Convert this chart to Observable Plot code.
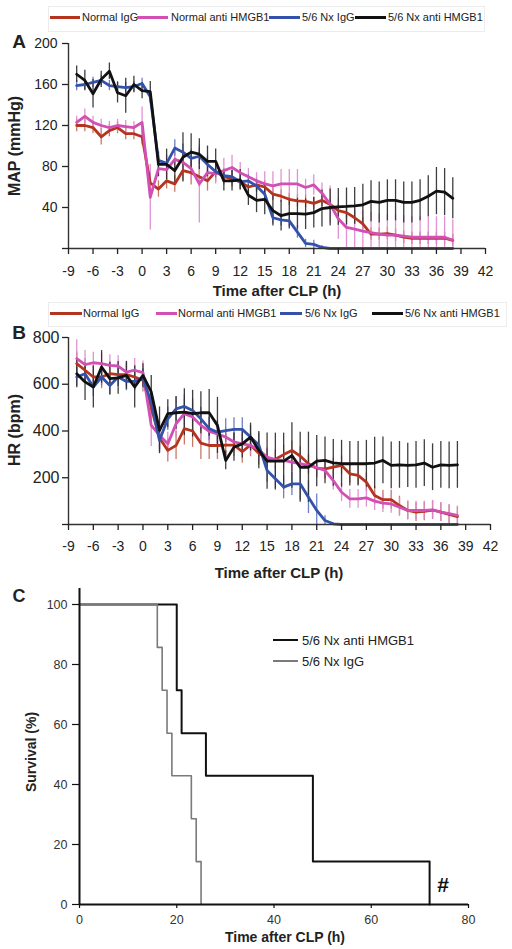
<!DOCTYPE html>
<html><head><meta charset="utf-8">
<script src="https://cdn.jsdelivr.net/npm/d3@7"></script>
<script src="https://cdn.jsdelivr.net/npm/@observablehq/plot@0.6"></script>
<style>
body{margin:0;background:#fff;}
#root{position:relative;width:512px;height:949px;overflow:hidden;font-family:"Liberation Sans",Arial,sans-serif;color:#222;background:#fff;}
.panel{position:absolute;left:0;}
.panel svg{overflow:visible;}
.t{position:absolute;white-space:nowrap;line-height:1;}
.sw{position:absolute;}
.box{position:absolute;border:1px solid #ececec;}
</style></head><body><div id="root"></div>
<script>
// ---------- data ----------
const hours = [-8,-7,-6,-5,-4,-3,-2,-1,0,1,2,3,4,5,6,7,8,9,10,11,12,13,14,15,16,17,18,19,20,21,22,23,24,25,26,27,28,29,30,31,32,33,34,35,36,37,38];
const seriesNames = ["Normal IgG","Normal anti HMGB1","5/6 Nx IgG","5/6 Nx anti HMGB1"];

// Panel A: MAP (mmHg)
const mapNormalIgG  = [120,120,118,109,115,118,112,112,109, 64,58,66,63,76,74,70,66,75,70,68,65,60,62, 60,53,51,48,46.5,46,44,47,43,37,35,30,24,14,14,14.6,13,11,10,10,10,10,10,8];
const mapNormalAnti = [123,129,123,120,118,120,119,118,123, 50,78,77,87,84,78,63,74,73,76,79,74,70,66, 63,61,63,63,63,59.5,62,54,43,29,20.5,19,17,15.6,14,13,13,12,11,11,11,11,11,8];
const mapNxIgG      = [159,160,162,164,159,158,157,158,161, 148,86,83,98,94,88,90,82,75,71,70,65,66,61, 53,30,28,27,16,5,4,1,0, 0,0,0,0,0,0,0,0,0,0,0,0,0,0,0];
const mapNxAnti     = [170,164,151,165,173,152,149,160,154, 153,82,82,76,89,94,92,85,85,66,66,67,52,47, 48,37,32,34,34,33.5,35,39,40,40.6,41,41.6,42.6,46,45,47,47,45,45,47,51,56,55,49];
const mapErrNormalIgG  = [6,6,6,8,6,6,6,6,8, 10,8,8,8,10,12,10,10,10,8,8,8,6,6, 6,6,6,6,6,6,6,6,6,6,6,6,6,6,6,6,6,6,6,6,6,6,6,6];
const mapErrNormalAnti = [6,7,6,6,6,6,6,6,15, 32,8,10,10,10,12,38,10,10,12,12,10,8,8, 12,14,14,14,14,8,10,10,18,20,20,20,20,20,20,20,20,20,20,20,20,20,20,20];
const mapErrNxIgG      = [5,5,5,5,5,5,5,5,5, 6,8,8,8,8,8,8,8,6,6,6,6,6,6, 6,6,6,6,6,4,4,2,0, 0,0,0,0,0,0,0,0,0,0,0,0,0,0,0];
const mapErrNxAnti     = [8,10,14,8,8,10,17,8,8, 10,12,15,12,24,18,15,15,12,10,10,10,10,12, 15,15,15,15,15,15,15,18,18,18,18,18,20,20,20,20,20,20,20,20,20,23,23,20];

// Panel B: HR (bpm)
const hrNormalIgG  = [688,660,631,631,645,641,641,631,617, 500,370,317,338,410,400,348,338,338,340,340,312,340,305, 283,279,299,317,293,260,240,238,245,253,217,210,181,124,106,106,81,60,53,56,62,53,43,34];
const hrNormalAnti = [710,684,692,688,681,678,652,660,650, 424,381,345,431,474,460,424,398,388,374,353,345,338,320, 288,277,274,267,260,253,243,231,188,138,110,110,114,100,91,88,74,60,60,60,63,53,46,39];
const hrNxIgG      = [631,645,588,631,595,631,612,612,624, 524,360,452,495,505,488,452,410,395,402,407,407,374,340, 231,196,160,174,174,117,60,17,3, 0,0,0,0,0,0,0,0,0,0,0,0,0,0,0];
const hrNxAnti     = [645,610,588,674,624,627,638,588,638, 567,403,474,478,481,474,478,478,424,274,331,345,374,318, 271,271,271,295,245,245,271,274,264,260,260,260,260,263,274,253,255,253,255,263,245,255,253,255];
const hrErrNormalIgG  = [50,50,50,50,50,50,50,50,50, 60,50,50,60,70,70,70,60,60,50,50,50,50,50, 40,40,40,40,40,40,40,40,40,40,40,40,40,40,40,40,40,40,40,40,40,40,40,40];
const hrErrNormalAnti = [80,60,45,45,45,45,45,50,50, 90,60,50,60,60,60,60,60,50,40,40,40,40,40, 40,40,40,40,40,40,40,40,40,40,40,40,40,40,40,40,40,40,40,40,40,40,40,40];
const hrErrNxIgG      = [40,40,40,40,40,40,40,40,40, 50,50,50,50,50,50,50,50,50,50,50,50,50,50, 50,50,50,50,70,70,70,20,5, 0,0,0,0,0,0,0,0,0,0,0,0,0,0,0];
const hrErrNxAnti     = [60,80,90,70,70,70,60,90,50, 70,100,60,70,100,100,90,100,120,40,60,60,60,80, 120,120,120,140,150,150,110,100,100,100,95,95,100,110,100,100,100,95,100,100,100,100,100,100];

// Panel C: survival (%)
const survTimeAnti = [0,20,21,26,48,72];
const survAnti     = [100,71.4,57.1,42.9,14.3,0];
const survTimeIgG  = [0,16,17,18,19,23,24,25];
const survIgG      = [100,85.7,71.4,57.1,42.9,28.6,14.3,0];

const hourTicks = [-9,-6,-3,0,3,6,9,12,15,18,21,24,27,30,33,36,39,42];
const mapTicks = [0,40,80,120,160,200];
const hrTicks = [0,200,400,600,800];
const survXTicks = [0,20,40,60,80];
const survYTicks = [0,20,40,60,80,100];

// ---------- styles ----------
const lineColors = ["#b5341f","#d24fb4","#3452aa","#111111"];
const errColors  = ["#c06a55","#dd86cf","#5d70bb","#2a2a2a"];
const FONT = "Liberation Sans, Arial, sans-serif";
const root = document.getElementById("root");

function rows(vals, errs){
  return hours.map((t,i)=>({t, v: vals[i], lo: Math.max(0, vals[i]-errs[i]), hi: vals[i]+errs[i]}));
}
function seriesMarks(list){
  const m = [];
  list.forEach((d,i)=>{ m.push(Plot.ruleX(d, {x:"t", y1:"lo", y2:"hi", stroke: errColors[i], strokeWidth: 1.3, strokeOpacity: 0.9})); });
  list.forEach((d,i)=>{ m.push(Plot.line(d, {x:"t", y:"v", stroke: lineColors[i], strokeWidth: 2.8, strokeLinejoin:"round"})); });
  return m;
}
function place(el, top){ const d = document.createElement("div"); d.className="panel"; d.style.top = top+"px"; d.appendChild(el); root.appendChild(d); }
function text(str, x, y, opts={}){
  const d = document.createElement("div"); d.className="t"; d.textContent = str;
  d.style.left = x+"px"; d.style.top = y+"px";
  d.style.fontSize = (opts.size||12)+"px";
  if (opts.bold) d.style.fontWeight = "bold";
  if (opts.color) d.style.color = opts.color;
  const anchor = opts.anchor || "middle";
  let tr = anchor==="middle" ? "translate(-50%,-50%)" : "translate(0,-50%)";
  if (opts.rotate) tr += " rotate(-90deg)";
  d.style.transform = tr;
  root.appendChild(d);
}
function swatch(x1, x2, y, color, w){
  const d = document.createElement("div"); d.className="sw";
  d.style.left = x1+"px"; d.style.width = (x2-x1)+"px"; d.style.top = (y - w/2)+"px"; d.style.height = w+"px"; d.style.background = color;
  root.appendChild(d);
}
function box(x, y, w, h){ const d = document.createElement("div"); d.className="box"; Object.assign(d.style,{left:x+"px",top:y+"px",width:w+"px",height:h+"px"}); root.appendChild(d); }

// ---------- Panel A ----------
const dataA = [rows(mapNormalIgG,mapErrNormalIgG), rows(mapNormalAnti,mapErrNormalAnti), rows(mapNxIgG,mapErrNxIgG), rows(mapNxAnti,mapErrNxAnti)];
const plotA = Plot.plot({
  width: 512, height: 300, marginTop: 43, marginBottom: 52, marginLeft: 68, marginRight: 27,
  x: {domain: [hourTicks[0], hourTicks[hourTicks.length-1]]}, y: {domain: [0, mapTicks[mapTicks.length-1]]},
  style: {fontFamily: FONT, fontSize: "14px", color: "#222", background: "transparent"},
  marks: [
    ...seriesMarks(dataA),
    Plot.ruleX([hourTicks[0]], {stroke:"#333", strokeWidth:1.4}),
    Plot.ruleY([0], {stroke:"#333", strokeWidth:1.4}),
    Plot.axisY({ticks: mapTicks, tickSize: 6, tickPadding: 5, tickFormat: d => d===0 ? "" : String(d), label: null, fontSize: 14, strokeWidth: 1.3}),
    Plot.axisX({ticks: hourTicks, tickSize: 6, tickPadding: 12, tickFormat: d => String(d), label: null, fontSize: 14, strokeWidth: 1.3})
  ]
});
place(plotA, 0);

// ---------- Panel B ----------
const dataB = [rows(hrNormalIgG,hrErrNormalIgG), rows(hrNormalAnti,hrErrNormalAnti), rows(hrNxIgG,hrErrNxIgG), rows(hrNxAnti,hrErrNxAnti)];
const plotB = Plot.plot({
  width: 512, height: 300, marginTop: 37, marginBottom: 76, marginLeft: 68, marginRight: 22,
  x: {domain: [hourTicks[0], hourTicks[hourTicks.length-1]]}, y: {domain: [0, hrTicks[hrTicks.length-1]]},
  style: {fontFamily: FONT, fontSize: "14px", color: "#222", background: "transparent"},
  marks: [
    ...seriesMarks(dataB),
    Plot.ruleX([hourTicks[0]], {stroke:"#333", strokeWidth:1.4}),
    Plot.ruleY([0], {stroke:"#333", strokeWidth:1.4}),
    Plot.axisY({ticks: hrTicks, tickSize: 6, tickPadding: 3, tickFormat: d => d===0 ? "" : String(d), label: null, fontSize: 16, strokeWidth: 1.3}),
    Plot.axisX({ticks: hourTicks, tickSize: 6, tickPadding: 11, tickFormat: d => String(d), label: null, fontSize: 14, strokeWidth: 1.3})
  ]
});
place(plotB, 300);

// ---------- Panel C ----------
const survAntiRows = survTimeAnti.map((t,i)=>({t, s: survAnti[i]}));
const survIgGRows  = survTimeIgG.map((t,i)=>({t, s: survIgG[i]}));
const plotC = Plot.plot({
  width: 512, height: 369, marginTop: 24, marginBottom: 45, marginLeft: 79, marginRight: 44,
  x: {domain: [survXTicks[0], survXTicks[survXTicks.length-1]]}, y: {domain: [0, survYTicks[survYTicks.length-1]]},
  style: {fontFamily: FONT, fontSize: "12.5px", color: "#333", background: "transparent"},
  marks: [
    Plot.line(survAntiRows, {x:"t", y:"s", curve:"step-after", stroke:"#111", strokeWidth:2}),
    Plot.line(survIgGRows,  {x:"t", y:"s", curve:"step-after", stroke:"#7a7a7a", strokeWidth:1.6}),
    Plot.ruleX([survXTicks[0]], {stroke:"#111", strokeWidth:2, insetTop:-16}),
    Plot.ruleY([0], {stroke:"#111", strokeWidth:2}),
    Plot.axisY({ticks: survYTicks, tickSize: 7, tickPadding: 5, tickFormat: d => String(d), label: null, fontSize: 12.5, stroke:"#111", strokeWidth: 1.2}),
    Plot.axisX({ticks: survXTicks, tickSize: 4, tickPadding: 7, tickFormat: d => String(d), label: null, fontSize: 12.5, stroke:"#111", strokeWidth: 1.2})
  ]
});
place(plotC, 580);

// ---------- text, legends ----------
// Legend A
box(48, 6, 435, 24);
[[50,80,82],[137,168,171],[269,300,302],[355,386,388]].forEach((p,i)=>{ swatch(p[0],p[1],17,lineColors[i],3); text(seriesNames[i], p[2], 17, {size:11, anchor:"start", color:"#222"}); });
// Legend B
box(48, 302, 457, 23);
[[50,82,83],[156,177,178],[280,302,305],[372,403,405]].forEach((p,i)=>{ swatch(p[0],p[1],313,lineColors[i],3); text(seriesNames[i], p[2], 313, {size:11, anchor:"start", color:"#222"}); });
// Panel letters
text("A", 19, 41, {size:19, bold:true});
text("B", 19, 332, {size:19, bold:true});
text("C", 19, 596, {size:18, bold:true});
// Axis titles
text("MAP (mmHg)", 15, 146, {size:16, bold:true, rotate:true});
text("Time after CLP (h)", 277, 290, {size:15, bold:true});
text("HR (bpm)", 15, 430, {size:16, bold:true, rotate:true});
text("Time after CLP (h)", 279, 572, {size:15, bold:true});
text("Survival (%)", 31, 752, {size:14, bold:true, rotate:true});
text("Time after CLP (h)", 285, 937, {size:14, bold:true});
// Legend C
swatch(273, 298, 640, "#111", 2);
text(seriesNames[3], 302, 640, {size:13, anchor:"start", color:"#222"});
swatch(273, 298, 661, "#7a7a7a", 1.6);
text(seriesNames[2], 302, 661, {size:13, anchor:"start", color:"#222"});
// significance mark
text("#", 443, 884, {size:21, bold:true, color:"#111"});
</script>
</body></html>
